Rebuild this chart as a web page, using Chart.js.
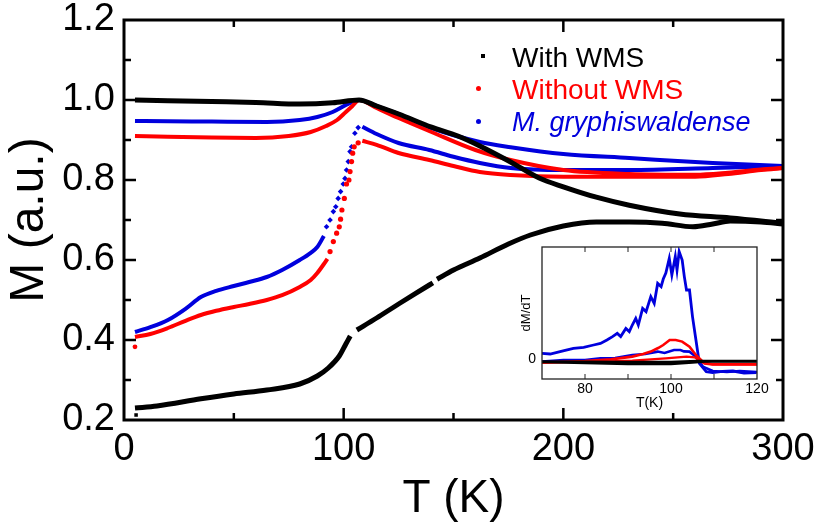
<!DOCTYPE html>
<html><head><meta charset="utf-8">
<script src="https://cdn.jsdelivr.net/npm/chart.js@4.4.1/dist/chart.umd.min.js"></script>
<style>
html,body{margin:0;padding:0;background:#fff;}
#wrap{position:relative;width:818px;height:532px;overflow:hidden;background:#fff;}
#main{position:absolute;left:0;top:0;}
#inset{position:absolute;left:505px;top:240px;}
.leg{position:absolute;font-family:'Liberation Sans',Arial,sans-serif;font-size:28px;line-height:1;white-space:nowrap;}
.mk{position:absolute;}
</style></head><body>
<div id="wrap">
<canvas id="main" width="818" height="532"></canvas>
<canvas id="inset" width="270" height="180"></canvas>
<div class="mk" style="left:481px;top:54px;width:4px;height:4px;background:#000"></div>
<div class="leg" style="left:512px;top:44px;color:#000">With WMS</div>
<div class="mk" style="left:476px;top:86px;width:5px;height:5px;border-radius:50%;background:#ff0000"></div>
<div class="leg" style="left:512px;top:76px;color:#ff0000">Without WMS</div>
<div class="mk" style="left:476px;top:119px;width:5px;height:5px;border-radius:50%;background:#0000dd"></div>
<div class="leg" style="left:512px;top:109px;color:#0000dd;font-style:italic;font-size:27px">M. gryphiswaldense</div>
</div>
<script>
// ---------- main panel data: T (K) and M (a.u.) ----------
const xTickValues = [0, 100, 200, 300];
const yTickValues = [0.2, 0.4, 0.6, 0.8, 1.0, 1.2];

// With WMS (black)
const tBlkUp  = [5, 20, 40, 60, 80, 95, 107, 115, 125, 140, 152, 162, 176, 189, 200, 215, 230, 253, 276, 300];
const mBlkUp  = [1.0, 0.998, 0.996, 0.994, 0.99, 0.993, 1.0, 0.985, 0.965, 0.932, 0.91, 0.885, 0.845, 0.805, 0.783, 0.757, 0.737, 0.715, 0.705, 0.692];
const tBlkLo1 = [5, 15, 35, 50, 65, 80, 88, 93, 98, 101, 103];
const mBlkLo1 = [0.23, 0.235, 0.253, 0.265, 0.275, 0.29, 0.31, 0.33, 0.36, 0.39, 0.41];
const tBlkLo2 = [106, 115, 125, 139, 140.6];
const mBlkLo2 = [0.425, 0.455, 0.49, 0.5375, 0.543];
const tBlkLo3 = [142.5, 150, 162, 175, 185, 200, 215, 230, 245, 259, 268, 276, 290, 300];
const mBlkLo3 = [0.552, 0.575, 0.605, 0.64, 0.6625, 0.685, 0.695, 0.695, 0.692, 0.683, 0.69, 0.6975, 0.695, 0.69];
const tBlkPt  = [5.5];
const mBlkPt  = [0.2125];

// Without WMS (red)
const tRedUp  = [5, 20, 40, 60, 75, 85, 92, 97, 101, 104, 107, 115, 125, 140, 160, 176, 200, 230, 260, 275, 290, 300];
const mRedUp  = [0.91, 0.908, 0.906, 0.905, 0.91, 0.92, 0.935, 0.95, 0.97, 0.985, 1.0, 0.98, 0.955, 0.92, 0.875, 0.85, 0.825, 0.815, 0.813, 0.818, 0.826, 0.83];
const tRedLo1 = [5, 12, 20, 28, 35, 42, 50, 57, 65, 72, 80, 85, 88, 91, 92.6];
const mRedLo1 = [0.4075, 0.415, 0.43, 0.448, 0.4625, 0.473, 0.4825, 0.49, 0.5, 0.512, 0.5325, 0.55, 0.5675, 0.59, 0.603];
const tRedJump = [93.8, 95.3, 96.8, 98.0, 98.6, 99.2, 100.3, 101.3, 102.4, 102.9, 103.6, 104.1, 104.8, 106.6];
const mRedJump = [0.621, 0.646, 0.667, 0.683, 0.702, 0.725, 0.754, 0.79, 0.8, 0.821, 0.846, 0.867, 0.883, 0.893];
const tRedLo2 = [108.5, 115, 125, 139, 150, 162, 176, 200, 230, 260, 275, 290, 300];
const mRedLo2 = [0.898, 0.888, 0.8675, 0.85, 0.835, 0.82, 0.8125, 0.808, 0.808, 0.808, 0.815, 0.825, 0.83];
const tRedPt  = [5];
const mRedPt  = [0.383];

// M. gryphiswaldense (blue)
const tBluUp  = [5, 20, 40, 65, 80, 88, 95, 101, 104, 107, 115, 125, 140, 162, 176, 200, 230, 268, 300];
const mBluUp  = [0.9475, 0.947, 0.946, 0.945, 0.95, 0.9575, 0.97, 0.9875, 0.995, 1.0, 0.985, 0.965, 0.93, 0.895, 0.882, 0.865, 0.855, 0.8425, 0.835];
const tBluLo1 = [5, 12, 20, 28, 35, 42, 50, 57, 65, 72, 80, 85, 88, 91];
const mBluLo1 = [0.42, 0.432, 0.45, 0.478, 0.5075, 0.523, 0.535, 0.545, 0.5575, 0.575, 0.6, 0.618, 0.6325, 0.66];
const tBluJump = [92.2, 93.8, 95.3, 96.4, 97.5, 98.6, 99.8, 100.6, 101.3, 102.1, 102.9, 103.6, 105.1, 106.6];
const mBluJump = [0.683, 0.7, 0.721, 0.733, 0.754, 0.771, 0.79, 0.804, 0.825, 0.846, 0.871, 0.883, 0.917, 0.931];
const tBluLo2 = [108.5, 115, 125, 139, 150, 162, 176, 200, 230, 268, 300];
const mBluLo2 = [0.933, 0.915, 0.8925, 0.875, 0.858, 0.8425, 0.83, 0.825, 0.825, 0.83, 0.835];

// ---------- inset data: T (K) and dM/dT (arb.) ----------
const insetXTicks = [80, 100, 120];
const tInBluBig = [70, 71.9, 74.2, 77.3, 79.7, 82, 83.6, 85.1, 86.4, 87.5, 88.3, 89.5, 90.3, 91, 91.8, 92.4, 93.4, 94.2, 95.3, 96.1, 96.9, 97.7, 98.2, 98.8, 99.6, 100.2, 101, 101.4, 101.9, 102.6, 103.1, 103.6, 104.3, 105, 105.8, 106.6, 108.2, 109.7, 112, 114.4, 117, 119.9];
const vInBluBig = [0.28, 0.25, 0.37, 0.53, 0.58, 0.7, 0.78, 0.95, 1.12, 1.28, 1.12, 1.53, 1.37, 1.7, 2.03, 1.7, 2.53, 2.37, 3.12, 2.78, 3.78, 3.62, 4.0, 4.3, 5.03, 4.2, 5.12, 4.45, 5.37, 4.95, 4.12, 3.45, 3.45, 2.12, 0.95, -0.22, -0.63, -0.68, -0.62, -0.6, -0.7, -0.68];
const tInBluSm  = [70, 75, 80, 83.6, 87, 91, 94, 96.9, 98.5, 100.7, 102.2, 103, 104.3, 105.8, 107.4, 109.7, 113, 116, 120];
const vInBluSm  = [-0.13, -0.05, -0.05, 0.03, 0.05, 0.2, 0.25, 0.37, 0.3, 0.45, 0.45, 0.38, 0.37, 0.12, -0.38, -0.6, -0.65, -0.6, -0.65];
const tInRedBig = [70, 80, 86, 91, 93.5, 95.3, 97, 98.2, 99.7, 101.1, 102.6, 104.3, 105.8, 107.8, 109.7, 115, 120];
const vInRedBig = [-0.18, -0.1, -0.02, 0.12, 0.25, 0.37, 0.55, 0.7, 0.95, 0.95, 0.87, 0.62, 0.2, -0.22, -0.27, -0.27, -0.27];
const tInRedSm  = [70, 80, 91, 98.8, 103.6, 105.5, 107.4, 109.7, 120];
const vInRedSm  = [-0.18, -0.15, -0.08, 0.03, 0.12, 0.08, -0.18, -0.27, -0.27];
const tInBlk1   = [70, 80, 90, 100, 105, 108, 120];
const vInBlk1   = [-0.15, -0.2, -0.25, -0.25, -0.18, -0.13, -0.13];
const tInBlk2   = [70, 90, 100, 106, 110, 120];
const vInBlk2   = [-0.13, -0.15, -0.15, -0.1, -0.1, -0.1];

const BLACK = '#000000', RED = '#ff0000', BLUE = '#0000dd';
const FONT = "'Liberation Sans', Arial, sans-serif";

function pts(t, m) { return t.map((x, i) => ({ x: x, y: m[i] })); }
function lineDs(t, m, color, w) {
  return { data: pts(t, m), borderColor: color, backgroundColor: color, borderWidth: w,
    pointRadius: 0, cubicInterpolationMode: 'monotone', fill: false };
}
function dotDs(t, m, color, r, style) {
  return { data: pts(t, m), showLine: false, pointRadius: r, pointStyle: style || 'circle',
    backgroundColor: color, borderColor: color, borderWidth: 0 };
}
function noPadX(s) { s.paddingLeft = 0; s.paddingRight = 0; }
function noPadY(s) { s.paddingTop = 0; s.paddingBottom = 0; }

const framePlugin = {
  id: 'frame',
  afterDatasetsDraw(chart, args, o) {
    const { ctx, chartArea: a, scales: { x, y } } = chart;
    ctx.save();
    ctx.strokeStyle = o.color; ctx.lineWidth = o.tw; ctx.lineCap = 'butt';
    ctx.beginPath();
    x.ticks.forEach(t => {
      if (t.value <= x.min || t.value >= x.max) return;
      const px = x.getPixelForValue(t.value);
      const L = (o.xMajor.includes(t.value)) ? o.maj : o.min;
      ctx.moveTo(px, a.bottom); ctx.lineTo(px, a.bottom - L);
      ctx.moveTo(px, a.top); ctx.lineTo(px, a.top + L);
    });
    if (o.yTicks) {
      y.ticks.forEach(t => {
        if (t.value <= y.min + 1e-9 || t.value >= y.max - 1e-9) return;
        const py = y.getPixelForValue(t.value);
        const major = Math.round(t.value * 10) % 2 === 0;
        const L = major ? o.maj : o.min;
        ctx.moveTo(a.left, py); ctx.lineTo(a.left + L, py);
        ctx.moveTo(a.right, py); ctx.lineTo(a.right - L, py);
      });
    }
    ctx.stroke();
    ctx.lineWidth = o.fw;
    ctx.strokeRect(a.left, a.top, a.right - a.left, a.bottom - a.top);
    ctx.restore();
  }
};

new Chart(document.getElementById('main'), {
  type: 'line',
  data: {
    datasets: [
      lineDs(tBlkUp, mBlkUp, BLACK, 5),
      lineDs(tBlkLo1, mBlkLo1, BLACK, 5),
      lineDs(tBlkLo2, mBlkLo2, BLACK, 5),
      lineDs(tBlkLo3, mBlkLo3, BLACK, 5),
      dotDs(tBlkPt, mBlkPt, BLACK, 2.5, 'rect'),
      lineDs(tRedUp, mRedUp, RED, 4),
      lineDs(tRedLo1, mRedLo1, RED, 4),
      dotDs(tRedJump, mRedJump, RED, 2.6),
      lineDs(tRedLo2, mRedLo2, RED, 4),
      dotDs(tRedPt, mRedPt, RED, 2.4),
      lineDs(tBluUp, mBluUp, BLUE, 4),
      lineDs(tBluLo1, mBluLo1, BLUE, 4),
      dotDs(tBluJump, mBluJump, BLUE, 2.8, 'rectRot'),
      lineDs(tBluLo2, mBluLo2, BLUE, 4)
    ]
  },
  options: {
    responsive: false, animation: false, devicePixelRatio: 1,
    layout: { padding: { left: 0, right: 35, top: 20, bottom: 0 } },
    plugins: { legend: { display: false }, tooltip: { enabled: false },
      frame: { color: '#000', tw: 2.5, fw: 3, maj: 12, min: 7, xMajor: xTickValues, yTicks: true } },
    scales: {
      x: {
        type: 'linear', min: 0, max: 300,
        afterFit(s) { s.height = 112; noPadX(s); },
        grid: { display: false, drawTicks: false }, border: { display: false },
        ticks: { stepSize: 50, autoSkip: false, maxRotation: 0, padding: 11, color: '#000',
          font: { family: FONT, size: 38, lineHeight: 1 },
          callback: v => xTickValues.includes(v) ? String(v) : '' },
        title: { display: true, text: 'T (K)', color: '#000',
          font: { family: FONT, size: 46, lineHeight: 1.1 }, padding: { top: 0, bottom: 7 } }
      },
      y: {
        type: 'linear', min: 0.2, max: 1.2,
        afterFit(s) { s.width = 124; noPadY(s); },
        grid: { display: false, drawTicks: false }, border: { display: false },
        ticks: { stepSize: 0.1, autoSkip: false, padding: 9, color: '#000',
          font: { family: FONT, size: 38, lineHeight: 1 },
          callback: v => { const r = Math.round(v * 10) / 10; return yTickValues.some(q => Math.abs(q - r) < 1e-6) ? r.toFixed(1) : ''; } },
        title: { display: true, text: 'M (a.u.)', color: '#000',
          font: { family: FONT, size: 48, lineHeight: 1.1 }, padding: { top: 3, bottom: 0 } }
      }
    }
  },
  plugins: [framePlugin]
});

new Chart(document.getElementById('inset'), {
  type: 'line',
  data: {
    datasets: [
      lineDs(tInBlk1, vInBlk1, BLACK, 2.5),
      lineDs(tInBlk2, vInBlk2, BLACK, 2.5),
      lineDs(tInRedSm, vInRedSm, RED, 2.2),
      lineDs(tInRedBig, vInRedBig, RED, 2.6),
      lineDs(tInBluSm, vInBluSm, BLUE, 2.6),
      lineDs(tInBluBig, vInBluBig, BLUE, 2.8)
    ].map(d => Object.assign(d, { cubicInterpolationMode: 'default', tension: 0 }))
  },
  options: {
    responsive: false, animation: false, devicePixelRatio: 1,
    layout: { padding: { left: 0, right: 18, top: 7, bottom: 0 } },
    plugins: { legend: { display: false }, tooltip: { enabled: false },
      frame: { color: '#222', tw: 1, fw: 1.3, maj: 5, min: 5, xMajor: insetXTicks, yTicks: false } },
    scales: {
      x: {
        type: 'linear', min: 70, max: 120,
        afterFit(s) { s.height = 41; noPadX(s); },
        grid: { display: false, drawTicks: false }, border: { display: false },
        ticks: { stepSize: 10, autoSkip: false, maxRotation: 0, padding: 3, color: '#000',
          font: { family: FONT, size: 14, lineHeight: 1 },
          callback: v => insetXTicks.includes(v) ? String(v) : '' },
        title: { display: true, text: 'T(K)', color: '#000',
          font: { family: FONT, size: 14, lineHeight: 1.1 }, padding: { top: 0, bottom: 9 } }
      },
      y: {
        type: 'linear', min: -1, max: 5.6,
        afterFit(s) { s.width = 37; noPadY(s); },
        afterBuildTicks(s) { s.ticks = [{ value: 0 }]; },
        grid: { display: false, drawTicks: false }, border: { display: false },
        ticks: { padding: 6, color: '#000', font: { family: FONT, size: 14, lineHeight: 1 },
          callback: v => String(v) },
        title: { display: true, text: 'dM/dT', color: '#000',
          font: { family: FONT, size: 13, lineHeight: 1.1 }, padding: { top: 14, bottom: 0 } }
      }
    }
  },
  plugins: [framePlugin]
});
</script>
</body></html>
